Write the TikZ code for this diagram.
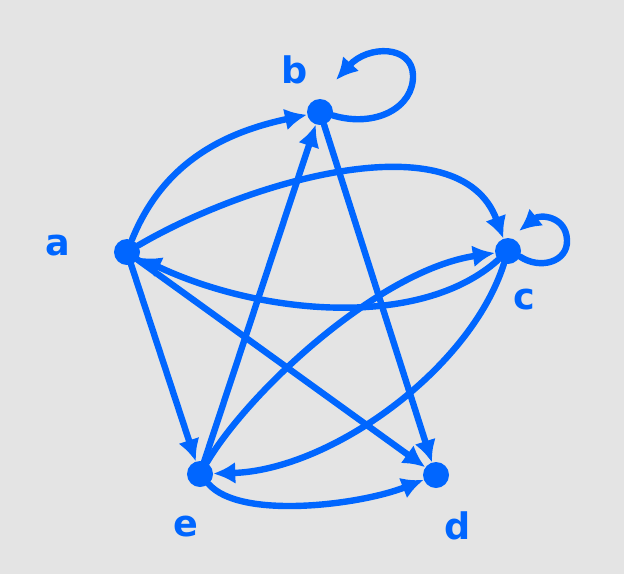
\documentclass[tikz,border=0pt]{standalone}
\usepackage{fontspec}
\setmainfont{DejaVu Sans}
\usetikzlibrary{arrows.meta}
\definecolor{pen}{HTML}{0066FF}
\definecolor{bgc}{HTML}{E4E4E4}
\tikzset{
  dot/.style={circle,fill=pen,inner sep=0pt,minimum size=0.65cm},
  lbl/.style={text=pen,font=\bfseries\fontsize{26}{30}\selectfont},
  edge/.style={draw=pen,line width=0.16cm,line cap=round,-{Latex[length=0.55cm,width=0.55cm]}}
}
\begin{document}
\begin{tikzpicture}[x=0.025cm,y=-0.025cm]
\fill[bgc] (0,0) rectangle (624,574);
\useasboundingbox (0,0) rectangle (624,574);
% vertices
\node[dot] (a) at (127,252) {};
\node[dot] (b) at (320,112) {};
\node[dot] (c) at (508,251) {};
\node[dot] (d) at (436,475) {};
\node[dot] (e) at (200,474) {};
% labels
\node[lbl] (la) at (58,246) {a};
\node[lbl] (lb) at (295,70) {b};
\node[lbl] (lc) at (524,300) {c};
\node[lbl] (ld) at (458,526) {d};
\node[lbl] (le) at (186,527) {e};
% loop end points
\coordinate (bend) at (336,80);
\coordinate (cend) at (519,231);
% edges
\draw[edge] (a) to[out=68,in=192] (b);
\draw[edge] (b.-15) .. controls (375,128) and (414,108) .. (413,75) .. controls (412,45) and (368,45) .. (bend);
\draw[edge] (a) .. controls (250,180) and (460,120) .. (c);
\draw[edge] (c) .. controls (420,330) and (260,315) .. (a);
\draw[edge] (c.-25) .. controls (540,270) and (568,262) .. (567,240) .. controls (566,216) and (540,214) .. (cend);
\draw[edge] (b) -- (d);
\draw[edge] (e) -- (b);
\draw[edge] (a) -- (e);
\draw[edge] (a) -- (d);
\draw[edge] (e) .. controls (250,390) and (380,270) .. (c);
\draw[edge] (c) .. controls (470,370) and (330,470) .. (e);
\draw[edge] (e) .. controls (240,520) and (360,505) .. (d);
\end{tikzpicture}
\end{document}
